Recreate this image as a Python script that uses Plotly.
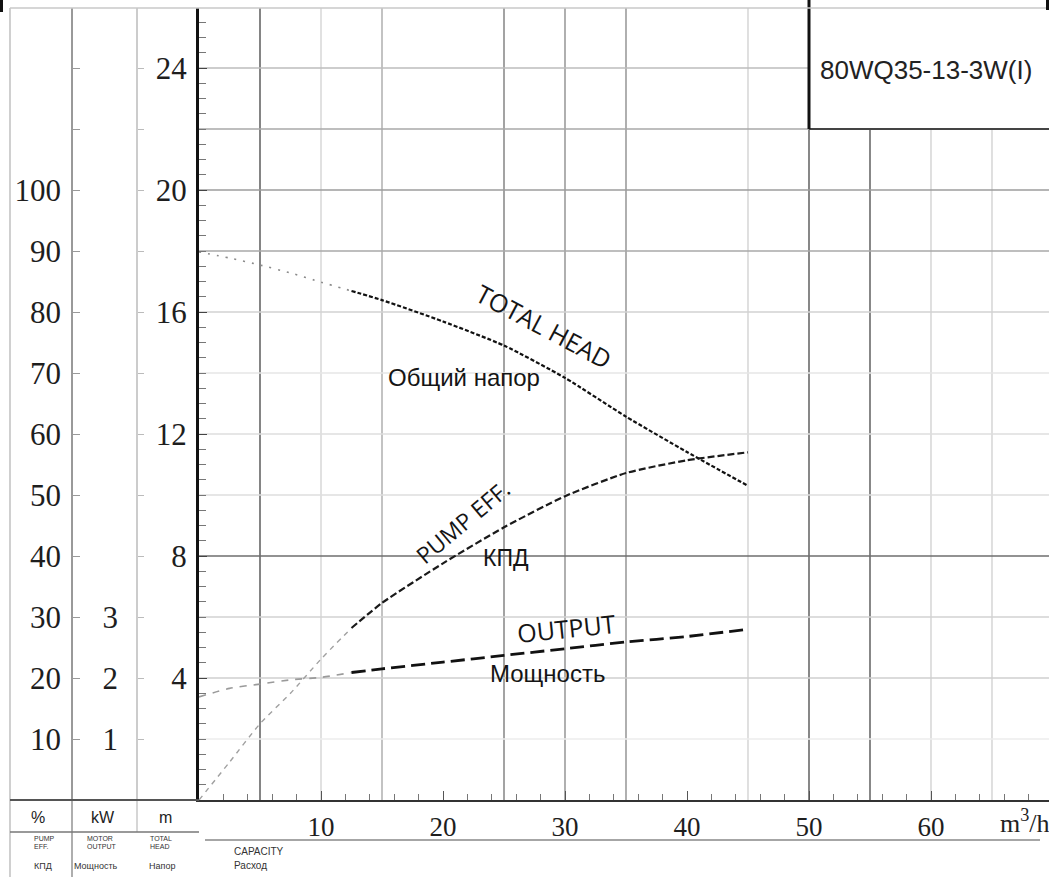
import plotly.graph_objects as go

# ---------------- data ----------------
capacity = [0, 2.5, 5, 7.5, 10, 12.5, 15, 20, 25, 30, 35, 40, 45]          # m3/h
total_head = [17.97, 17.77, 17.54, 17.28, 16.98, 16.69, 16.39, 15.69, 14.90, 13.84, 12.57, 11.41, 10.30]  # m
pump_eff = [0, 6.2, 12.5, 17.5, 23.1, 28.2, 32.3, 38.8, 44.7, 49.8, 53.6, 55.7, 57.0]                      # %
output_kw = [1.69, 1.83, 1.90, 1.97, 2.01, 2.09, 2.15, 2.26, 2.37, 2.48, 2.59, 2.68, 2.80]                 # kW

x_tickvals = [10, 20, 30, 40, 50, 60]
x_ticktext = ["10", "20", "30", "40", "50", "60"]
head_ticks = [4, 8, 12, 16, 20, 24]
eff_ticks = [10, 20, 30, 40, 50, 60, 70, 80, 90, 100]
kw_ticks = [1, 2, 3]
model_name = "80WQ35-13-3W(I)"
faint_until = 12.5   # low-flow part of each curve is drawn faint

# ---------------- geometry ----------------
W, H = 1049, 877
LEFT, TOP, BOTTOM = 199, 8, 800
PLOT_H = BOTTOM - TOP
PX_PER_Q = 12.2      # 61 px per 5 m3/h
PX_PER_M = 30.5      # 61 px per 2 m
PX_PER_PCT = 6.1
PX_PER_KW = 61.0
q_max = (W - LEFT) / PX_PER_Q
h_max = PLOT_H / PX_PER_M


def pxx(px):
    return px / W


def pxy(py):
    return (BOTTOM - py) / PLOT_H


def split(vals):
    i = capacity.index(faint_until)
    return (capacity[:i + 1], vals[:i + 1]), (capacity[i:], vals[i:])


fig = go.Figure()

curves = [
    (total_head, "y", dict(color="#8a8a8a", width=1.6, dash="2px,7px"), dict(color="#111", width=2.2, dash="4px,2px")),
    (pump_eff, "y2", dict(color="#a0a0a0", width=1.4, dash="5px,5px"), dict(color="#1a1a1a", width=2.2, dash="7px,3px")),
    (output_kw, "y3", dict(color="#9a9a9a", width=1.6, dash="7px,7px"), dict(color="#111", width=2.8, dash="14px,6px")),
]
for vals, yax, faint, dark in curves:
    (fx, fy), (dx, dy) = split(vals)
    fig.add_trace(go.Scatter(x=fx, y=fy, yaxis=yax, mode="lines", line=dict(shape="spline", smoothing=0.6, **faint),
                             hoverinfo="skip"))
    fig.add_trace(go.Scatter(x=dx, y=dy, yaxis=yax, mode="lines", line=dict(shape="spline", smoothing=0.6, **dark),
                             hoverinfo="skip"))

shapes = []
# vertical grid lines (every 5 m3/h) with scan-like varying darkness
v_colors = {5: "#666", 10: "#dadada", 15: "#b4b4b4", 25: "#8c8c8c", 30: "#9c9c9c", 35: "#9c9c9c",
            45: "#d8d8d8", 50: "#6a6a6a", 55: "#6a6a6a", 60: "#d8d8d8", 65: "#d8d8d8"}
for q, c in v_colors.items():
    shapes.append(dict(type="line", xref="x", yref="paper", x0=q, x1=q, y0=0, y1=1,
                       line=dict(color=c, width=1.6), layer="below"))
# horizontal grid lines (every 2 m)
h_colors = {2: "#ececec", 4: "#cfcfcf", 6: "#d2d2d2", 8: "#6e6e6e", 10: "#dedede", 12: "#dedede",
            14: "#e6e6e6", 16: "#d2d2d2", 18: "#a8a8a8", 20: "#9c9c9c", 22: "#a8a8a8", 24: "#bdbdbd"}
for hv, c in h_colors.items():
    shapes.append(dict(type="line", xref="paper", yref="y", x0=pxx(LEFT), x1=1, y0=hv, y1=hv,
                       line=dict(color=c, width=1.6), layer="below"))

# model box in the top-right corner
shapes.append(dict(type="rect", xref="x", yref="y", x0=50, x1=q_max + 1, y0=22, y1=h_max + 1,
                   fillcolor="white", line=dict(width=0), layer="above"))
shapes.append(dict(type="line", xref="x", yref="y", x0=50, x1=q_max + 1, y0=22, y1=22,
                   line=dict(color="#444", width=2.2), layer="above"))
shapes.append(dict(type="line", xref="x", yref="paper", x0=50, x1=50, y0=pxy(129), y1=1.02,
                   line=dict(color="#111", width=3), layer="above"))

# frame / table lines outside the plot area
frame = [
    (10, TOP, 10, H, "#c4c4c4", 1.6),
    (72, TOP, 72, H, "#9a9a9a", 1.6),
    (137, TOP, 137, 832, "#cccccc", 1.6),
    (10, BOTTOM, LEFT, BOTTOM, "#555", 2),
    (10, 832, LEFT, 832, "#777", 1.6),
    (205, 840, 1040, 840, "#888", 1.6),
    (10, TOP, W, TOP, "#c8c8c8", 1.6),
]
for x0, y0, x1, y1, c, w in frame:
    shapes.append(dict(type="line", xref="paper", yref="paper", x0=pxx(x0), x1=pxx(x1), y0=pxy(y0), y1=pxy(y1),
                       line=dict(color=c, width=w), layer="above"))
# scan marks at the top corners
for x0, x1, y1 in [(0, 3, 12), (1046, 1049, 10)]:
    shapes.append(dict(type="rect", xref="paper", yref="paper", x0=pxx(x0), x1=pxx(x1), y0=pxy(y1), y1=pxy(0),
                       fillcolor="#111", line=dict(width=0)))

annotations = []
sans = "Liberation Sans"
hum = "Open Sans"
serif = "Liberation Serif"


def lab(text, q, h, size, font=sans, angle=0, color="#151515"):
    annotations.append(dict(text=text, x=q, y=h, xref="x", yref="y", showarrow=False, textangle=angle,
                            xanchor="center", yanchor="middle", font=dict(family=font, size=size, color=color)))


lab("TOTAL HEAD", 28.3, 15.55, 25, hum, 28)
lab("Общий напор", 21.7, 13.84, 24)
lab("PUMP EFF.", 21.6, 9.11, 23, hum, -40)
lab("КПД", 25.2, 7.93, 23)
lab("OUTPUT", 30.1, 5.64, 25, hum, -6)
lab("Мощность", 28.6, 4.16, 24)
lab(model_name, 59.6, 23.95, 26, sans, 0, "#222")


def ptxt(text, px, py, size, anchor="center", color="#222", font=sans):
    annotations.append(dict(text=text, x=pxx(px), y=pxy(py), xref="paper", yref="paper", showarrow=False,
                            xanchor=anchor, yanchor="middle", font=dict(family=font, size=size, color=color)))


ptxt("%", 38, 817, 16)
ptxt("kW", 103, 817, 16)
ptxt("m", 165, 817, 16)
for txt, px, py, s in [("PUMP", 32, 838, 7), ("EFF.", 32, 846, 7), ("КПД", 32, 866, 9),
                       ("MOTOR", 85, 838, 7), ("OUTPUT", 85, 846, 7), ("Мощность", 72, 866, 9),
                       ("TOTAL", 148, 838, 7), ("HEAD", 148, 846, 7), ("Напор", 147, 866, 9),
                       ("CAPACITY", 232, 851, 10), ("Расход", 232, 866, 10)]:
    ptxt(txt, px, py, s, "left", "#333")
ptxt("m<sup>3</sup>/h", 998, 821, 26, "left", "#222", serif)

tick_font = dict(family=serif, size=31, color="#1e1e1e")

fig.update_layout(
    width=W, height=H,
    margin=dict(l=0, r=0, t=TOP, b=H - BOTTOM, pad=0),
    paper_bgcolor="white", plot_bgcolor="white",
    showlegend=False,
    shapes=shapes,
    annotations=annotations,
    xaxis=dict(domain=[pxx(LEFT), 1], range=[0, q_max], showgrid=False, zeroline=False,
               showline=True, linecolor="#333", linewidth=2,
               tickmode="array", tickvals=x_tickvals, ticktext=x_ticktext,
               ticks="inside", ticklen=9, tickcolor="#555", tickwidth=1.2,
               minor=dict(ticks="inside", ticklen=6, dtick=2, tick0=0, tickcolor="#777", showgrid=False),
               tickfont=dict(family=serif, size=27, color="#1e1e1e"), ticklabelstandoff=2),
    yaxis=dict(range=[0, h_max], showgrid=False, zeroline=False, showline=True, linecolor="#111", linewidth=3,
               tickmode="array", tickvals=head_ticks, ticks="inside", ticklen=8, tickcolor="#444",
               minor=dict(ticks="inside", ticklen=7, dtick=0.5, tickcolor="#777", showgrid=False),
               tickfont=tick_font, ticklabelstandoff=3),
    yaxis2=dict(range=[0, PLOT_H / PX_PER_PCT], overlaying="y", anchor="free", position=pxx(72), side="left",
                showgrid=False, zeroline=False, showline=True, linecolor="#9a9a9a", linewidth=1.6,
                tickmode="array", tickvals=eff_ticks, ticks="inside", ticklen=7, tickcolor="#999",
                minor=dict(ticks="inside", ticklen=7, dtick=10, tickcolor="#999", showgrid=False),
                tickfont=tick_font, ticklabelstandoff=4),
    yaxis3=dict(range=[0, PLOT_H / PX_PER_KW], overlaying="y", anchor="free", position=pxx(137), side="left",
                showgrid=False, zeroline=False, showline=True, linecolor="#cccccc", linewidth=1.6,
                tickmode="array", tickvals=kw_ticks, ticks="inside", ticklen=6, tickcolor="#bbb",
                minor=dict(ticks="inside", ticklen=6, dtick=1, tickcolor="#bbb", showgrid=False),
                tickfont=tick_font, ticklabelstandoff=12),
)

fig.write_html("out.html", config={"displayModeBar": False},
               post_script="document.body.style.margin='0px';document.body.style.overflow='hidden';")
